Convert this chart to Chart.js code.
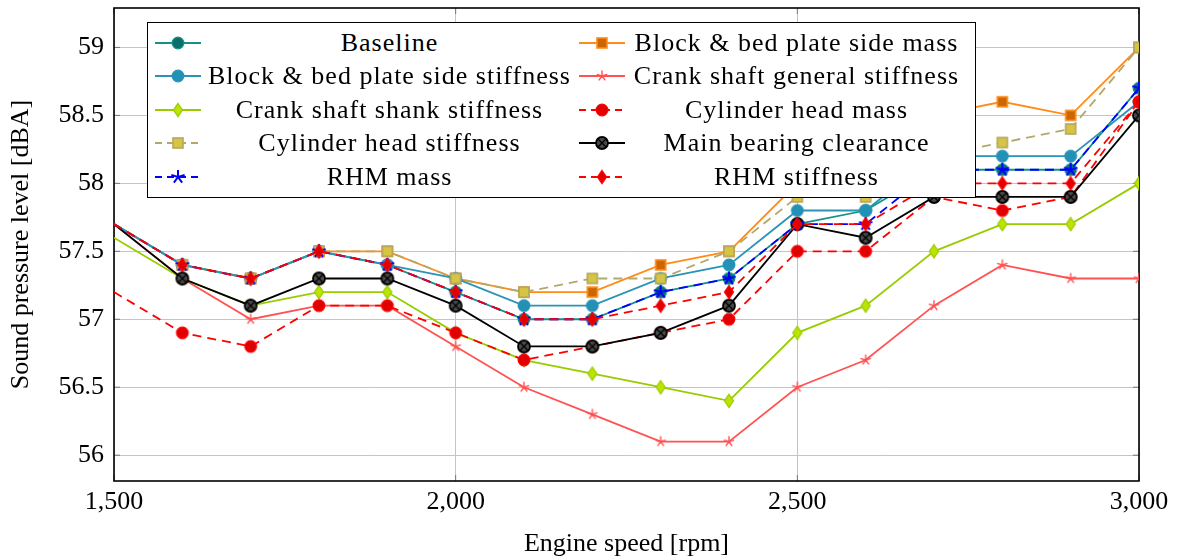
<!DOCTYPE html>
<html>
<head>
<meta charset="utf-8">
<script src="https://cdn.jsdelivr.net/npm/chart.js@4.4.1/dist/chart.umd.min.js"></script>
<style>
html, body { margin: 0; padding: 0; background: #fff; }
#wrap { position: relative; width: 1177px; height: 560px; }
#legend {
    position: absolute; left: 147px; top: 22px; width: 829px; height: 176px;
    box-sizing: border-box; border: 1.5px solid #000; background: #fff;
    font-family: "Liberation Serif", serif; font-size: 26px; letter-spacing: 1px; color: #000;
}
.entry { position: absolute; height: 30px; }
.entry canvas { position: absolute; top: 5px; }
.entry span { position: absolute; top: 0; line-height: 30px; text-align: center; white-space: nowrap; }
</style>
</head>
<body>
<div id="wrap">
    <canvas id="chart" width="1177" height="560"></canvas>
    <div id="legend"></div>
</div>
<script>
Chart.defaults.font.family = '"Liberation Serif", serif';
Chart.defaults.color = '#000';

const X_RPM = [1500, 1600, 1700, 1800, 1900, 2000, 2100, 2200, 2300, 2400, 2500, 2600, 2700, 2800, 2900, 3000];
const X_TICKS = [1500, 2000, 2500, 3000];
const Y_TICKS = [56, 56.5, 57, 57.5, 58, 58.5, 59];
const Y_MIN = 55.81;
const Y_MAX = 59.29;

const BASELINE      = [57.7, 57.4, 57.3, 57.5, 57.4, 57.2, 57.0, 57.0, 57.2, 57.3, 57.7, 57.8, 58.1, 58.1, 58.1, 58.7];
const BLOCK_MASS    = [57.7, 57.4, 57.3, 57.5, 57.5, 57.3, 57.2, 57.2, 57.4, 57.5, 58.0, 58.2, 58.5, 58.6, 58.5, 59.0];
const BLOCK_STIFF   = [57.7, 57.4, 57.3, 57.5, 57.4, 57.3, 57.1, 57.1, 57.3, 57.4, 57.8, 57.8, 58.2, 58.2, 58.2, 58.6];
const CRANK_GENERAL = [57.7, 57.3, 57.0, 57.1, 57.1, 56.8, 56.5, 56.3, 56.1, 56.1, 56.5, 56.7, 57.1, 57.4, 57.3, 57.3];
const CRANK_SHANK   = [57.6, 57.3, 57.1, 57.2, 57.2, 56.9, 56.7, 56.6, 56.5, 56.4, 56.9, 57.1, 57.5, 57.7, 57.7, 58.0];
const CYL_MASS      = [57.2, 56.9, 56.8, 57.1, 57.1, 56.9, 56.7, 56.8, 56.9, 57.0, 57.5, 57.5, 57.9, 57.8, 57.9, 58.6];
const CYL_STIFF     = [57.7, 57.4, 57.3, 57.5, 57.5, 57.3, 57.2, 57.3, 57.3, 57.5, 57.9, 57.9, 58.2, 58.3, 58.4, 59.0];
const MAIN_BEARING  = [57.7, 57.3, 57.1, 57.3, 57.3, 57.1, 56.8, 56.8, 56.9, 57.1, 57.7, 57.6, 57.9, 57.9, 57.9, 58.5];
const RHM_MASS      = [57.7, 57.4, 57.3, 57.5, 57.4, 57.2, 57.0, 57.0, 57.2, 57.3, 57.7, 57.7, 58.1, 58.1, 58.1, 58.7];
const RHM_STIFF     = [57.7, 57.4, 57.3, 57.5, 57.4, 57.2, 57.0, 57.0, 57.1, 57.2, 57.7, 57.7, 58.0, 58.0, 58.0, 58.6];

// plot order = legend order (row by row, two columns)
const SERIES = [
    { label: 'Baseline', data: BASELINE, line: '#15918a', fill: '#0b6f69', edge: '#15918a', shape: 'circle', dash: false },
    { label: 'Block & bed plate side mass', data: BLOCK_MASS, line: '#ff8c1a', fill: '#cc6600', edge: '#ff8c1a', shape: 'square', dash: false },
    { label: 'Block & bed plate side stiffness', data: BLOCK_STIFF, line: '#2a93b6', fill: '#2192b5', edge: '#2a93b6', shape: 'circle', dash: false },
    { label: 'Crank shaft general stiffness', data: CRANK_GENERAL, line: '#ff5252', fill: '#ff5252', edge: '#ff5252', shape: 'star', dash: false },
    { label: 'Crank shaft shank stiffness', data: CRANK_SHANK, line: '#99cc00', fill: '#bde300', edge: '#99cc00', shape: 'diamond', dash: false },
    { label: 'Cylinder head mass', data: CYL_MASS, line: '#ff0000', fill: '#e00000', edge: '#ff0000', shape: 'circle', dash: true },
    { label: 'Cylinder head stiffness', data: CYL_STIFF, line: '#b3a86b', fill: '#d6c541', edge: '#b5a562', shape: 'square', dash: true },
    { label: 'Main bearing clearance', data: MAIN_BEARING, line: '#000000', fill: '#4a4a4a', edge: '#000000', shape: 'otimes', dash: false },
    { label: 'RHM mass', data: RHM_MASS, line: '#0000ff', fill: '#0000ff', edge: '#0000ff', shape: 'bigstar', dash: true },
    { label: 'RHM stiffness', data: RHM_STIFF, line: '#ff0000', fill: '#e00000', edge: '#ff0000', shape: 'diamond', dash: true }
];

const DASH = [9, 6];

function makeMarker(shape, fill, edge) {
    const c = document.createElement('canvas');
    c.width = 20; c.height = 20;
    const g = c.getContext('2d');
    g.translate(10, 10);
    g.fillStyle = fill;
    g.strokeStyle = edge;
    g.lineWidth = 1.3;
    if (shape === 'circle') {
        g.beginPath(); g.arc(0, 0, 5.8, 0, Math.PI * 2); g.fill(); g.stroke();
    } else if (shape === 'square') {
        g.lineWidth = 1.6;
        g.fillRect(-5, -5, 10, 10); g.strokeRect(-5, -5, 10, 10);
    } else if (shape === 'diamond') {
        g.beginPath();
        g.moveTo(0, -6.5); g.lineTo(4.5, 0); g.lineTo(0, 6.5); g.lineTo(-4.5, 0);
        g.closePath(); g.fill(); g.stroke();
    } else if (shape === 'star' || shape === 'bigstar') {
        const r = shape === 'bigstar' ? 7 : 5.5;
        g.lineWidth = shape === 'bigstar' ? 2 : 1.4;
        g.beginPath();
        for (let k = 0; k < 5; k++) {
            const a = -Math.PI / 2 + k * 2 * Math.PI / 5;
            g.moveTo(0, 0);
            g.lineTo(r * Math.cos(a), r * Math.sin(a));
        }
        g.stroke();
    } else if (shape === 'otimes') {
        g.beginPath(); g.arc(0, 0, 6, 0, Math.PI * 2); g.fill();
        g.lineWidth = 1.8; g.stroke();
        g.lineWidth = 1.3;
        const d = 6 * Math.SQRT1_2;
        g.beginPath();
        g.moveTo(-d, -d); g.lineTo(d, d);
        g.moveTo(d, -d); g.lineTo(-d, d);
        g.stroke();
    }
    return c;
}

const markers = SERIES.map(s => makeMarker(s.shape, s.fill, s.edge));

// axis box and inner tick marks like pgfplots
const frame = {
    id: 'frame',
    beforeDatasetsDraw(chart) {
        const { ctx, chartArea: a, scales } = chart;
        ctx.save();
        ctx.strokeStyle = '#777';
        ctx.lineWidth = 1;
        ctx.beginPath();
        Y_TICKS.forEach(v => {
            const y = scales.y.getPixelForValue(v);
            ctx.moveTo(a.left, y); ctx.lineTo(a.left + 6, y);
            ctx.moveTo(a.right, y); ctx.lineTo(a.right - 6, y);
        });
        X_TICKS.forEach(v => {
            const x = scales.x.getPixelForValue(v);
            ctx.moveTo(x, a.bottom); ctx.lineTo(x, a.bottom - 6);
            ctx.moveTo(x, a.top); ctx.lineTo(x, a.top + 6);
        });
        ctx.stroke();
        ctx.strokeStyle = '#000';
        ctx.lineWidth = 1.6;
        ctx.strokeRect(a.left, a.top, a.right - a.left, a.bottom - a.top);
        ctx.restore();
    }
};

new Chart(document.getElementById('chart'), {
    type: 'line',
    data: {
        datasets: SERIES.map((s, i) => ({
            label: s.label,
            data: X_RPM.map((x, j) => ({ x: x, y: s.data[j] })),
            borderColor: s.line,
            backgroundColor: s.fill,
            borderWidth: 1.8,
            borderDash: s.dash ? DASH : [],
            pointStyle: markers[i],
            // the reference shows no marks on the left edge
            pointRadius: (c) => c.dataIndex === 0 ? 0 : 6,
            tension: 0,
            fill: false,
            order: SERIES.length - i
        }))
    },
    options: {
        responsive: false,
        animation: false,
        layout: { padding: { left: 0, right: 38, top: 8, bottom: 0 } },
        plugins: {
            legend: { display: false },
            tooltip: { enabled: false }
        },
        scales: {
            x: {
                type: 'linear',
                min: 1500,
                max: 3000,
                afterBuildTicks: (scale) => { scale.ticks = X_TICKS.map(v => ({ value: v })); },
                afterFit: (scale) => { scale.height = 79; },
                ticks: {
                    font: { size: 26 },
                    padding: 6,
                    maxRotation: 0,
                    callback: (value) => value.toLocaleString('en-US')
                },
                grid: { color: '#c4c4c4', lineWidth: 1, drawTicks: false },
                border: { display: false },
                title: {
                    display: true,
                    text: 'Engine speed [rpm]',
                    font: { size: 26 },
                    padding: { top: 0, bottom: 0 }
                }
            },
            y: {
                min: Y_MIN,
                max: Y_MAX,
                afterBuildTicks: (scale) => { scale.ticks = Y_TICKS.map(v => ({ value: v })); },
                afterFit: (scale) => {
                    scale.width = 114;
                    scale.paddingTop = 0;
                    scale.paddingBottom = 0;
                },
                ticks: {
                    font: { size: 26 },
                    padding: 10,
                    callback: (value) => String(value)
                },
                grid: { color: '#c4c4c4', lineWidth: 1, drawTicks: false },
                border: { display: false },
                title: {
                    display: true,
                    text: 'Sound pressure level [dBA]',
                    font: { size: 26 },
                    padding: { top: 6, bottom: 0 }
                }
            }
        }
    },
    plugins: [frame]
});

// legend box drawn as html, two columns filled row by row
const legend = document.getElementById('legend');
const COLS = [
    { sample: 6.5, text: 59.5, width: 364 },
    { sample: 430.5, text: 483.5, width: 330 }
];
SERIES.forEach((s, i) => {
    const col = COLS[i % 2];
    const row = Math.floor(i / 2);
    const entry = document.createElement('div');
    entry.className = 'entry';
    entry.style.left = '0px';
    entry.style.width = '826px';
    entry.style.top = (20 + row * 33.4 - 15) + 'px';

    const cv = document.createElement('canvas');
    cv.width = 46; cv.height = 20;
    cv.style.left = col.sample + 'px';
    const g = cv.getContext('2d');
    g.strokeStyle = s.line;
    g.lineWidth = 2;
    g.setLineDash(s.dash ? [7, 5] : []);
    g.beginPath(); g.moveTo(0, 10); g.lineTo(46, 10); g.stroke();
    g.drawImage(markers[i], 13, 0);
    entry.appendChild(cv);

    const span = document.createElement('span');
    span.textContent = s.label;
    span.style.left = col.text + 'px';
    span.style.width = col.width + 'px';
    entry.appendChild(span);
    legend.appendChild(entry);
});
</script>
</body>
</html>
